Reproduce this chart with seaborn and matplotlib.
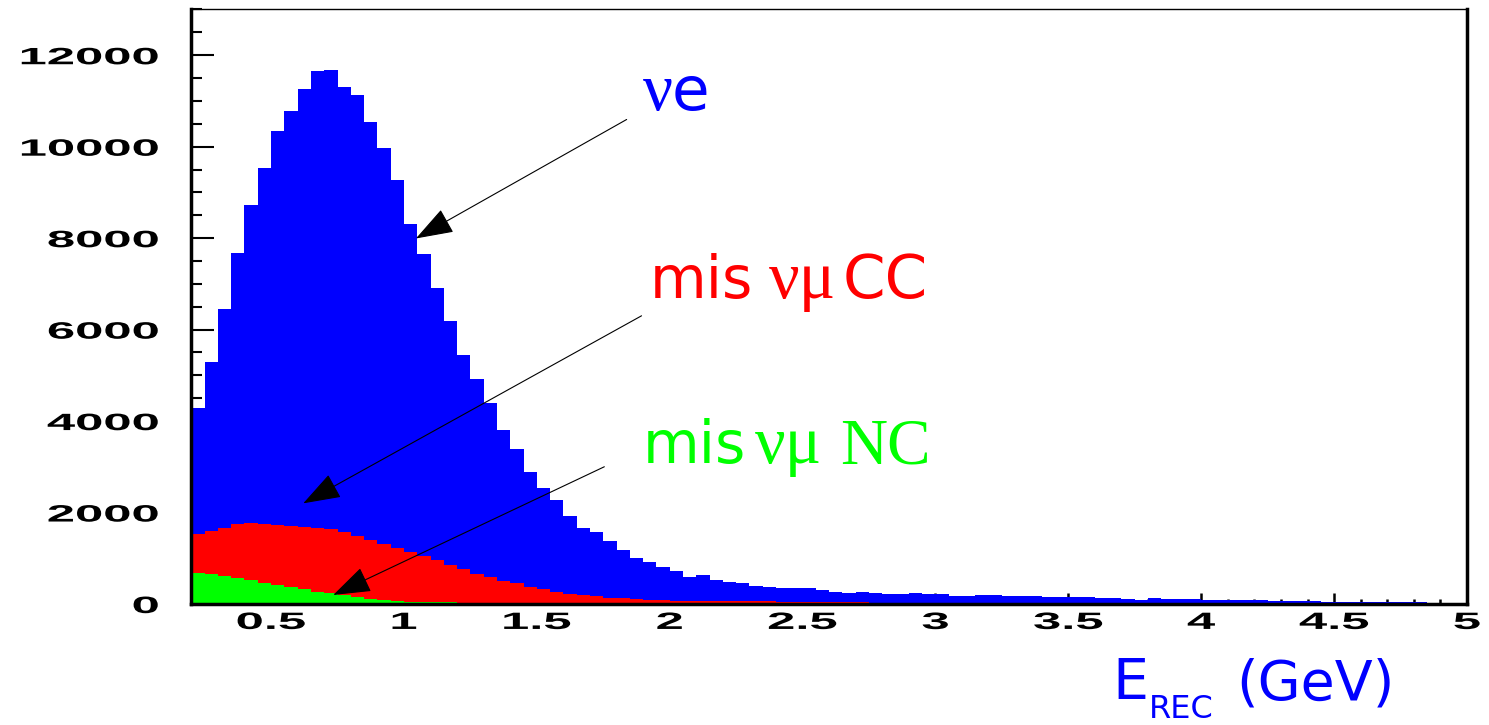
import numpy as np
import pandas as pd
import matplotlib
matplotlib.use("Agg")
import matplotlib.pyplot as plt
import seaborn as sns
from matplotlib.patheffects import AbstractPathEffect
from matplotlib.transforms import Affine2D
from matplotlib.ticker import MultipleLocator

# Binning of the reconstructed energy (GeV)
bin_lo, bin_hi, bin_w = 0.2, 5.0, 0.05

# Events per bin for each component, bins of 0.05 GeV starting at 0.2 GeV
nue_counts = [
    2761, 3700, 4791, 5924, 6958, 7787, 8618, 9071, 9581, 9998,
    10047, 9728, 9651, 9146, 8651, 8038, 7176, 6600, 5940, 5333,
    4683, 4251, 3821, 3293, 2945, 2499, 2209, 1996, 1698, 1469,
    1399, 1244, 1056, 908, 821, 736, 656, 518, 572, 458,
    417, 411, 336, 324, 299, 298, 299, 264, 232, 205,
    222, 202, 189, 190, 205, 199, 182, 150, 154, 172,
    172, 159, 158, 145, 134, 132, 132, 127, 112, 111,
    99, 76, 107, 103, 93, 90, 73, 72, 72, 65,
    65, 54, 53, 53, 53, 28, 27, 26, 27, 41,
    40, 40, 27, 19, 20, 19,
]
numu_cc_counts = [
    838, 947, 1056, 1180, 1238, 1284, 1320, 1348, 1369, 1390,
    1407, 1383, 1330, 1273, 1223, 1164, 1079, 1008, 924, 827,
    730, 632, 554, 486, 427, 359, 300, 251, 207, 175,
    152, 125, 109, 90, 77, 67, 60, 56, 55, 52,
    51, 49, 47, 46, 44, 41, 38, 34, 30, 28,
    26, 24, 23, 23, 22, 21, 20, 20, 19, 19,
    18, 18, 18, 18, 17, 17, 16, 17, 15, 16,
    14, 16, 14, 13, 13, 14, 12, 12, 11, 13,
    11, 10, 11, 10, 10, 10, 9, 9, 10, 8,
    8, 9, 7, 8, 8, 7,
]
numu_nc_counts = [
    685, 649, 612, 561, 525, 466, 415, 364, 321, 270,
    233, 197, 160, 117, 87, 66, 51, 42, 36, 33,
    30, 28, 26, 24, 23, 21, 20, 19, 18, 17,
    16, 15, 15, 14, 13, 13, 12, 12, 11, 11,
    10, 10, 10, 9, 9, 9, 8, 8, 8, 7,
    7, 7, 7, 6, 6, 6, 6, 5, 5, 6,
    5, 5, 4, 5, 4, 4, 4, 4, 4, 3,
    4, 3, 3, 4, 3, 3, 3, 3, 3, 2,
    3, 3, 2, 2, 3, 2, 2, 2, 2, 2,
    2, 2, 2, 2, 1, 2,
]

samples = ["nue", "numu_cc", "numu_nc"]
palette = {"nue": "#0000ff", "numu_cc": "#ff0000", "numu_nc": "#00ff00"}

x_tick_values = [0.5, 1, 1.5, 2, 2.5, 3, 3.5, 4, 4.5, 5]
x_tick_labels = ["0.5", "1", "1.5", "2", "2.5", "3", "3.5", "4", "4.5", "5"]
y_tick_values = [0, 2000, 4000, 6000, 8000, 10000, 12000]
y_tick_labels = ["0", "2000", "4000", "6000", "8000", "10000", "12000"]

edges = np.round(np.arange(bin_lo, bin_hi + bin_w / 2, bin_w), 4)
centers = (edges[:-1] + edges[1:]) / 2

df = pd.DataFrame({
    "E": np.tile(centers, len(samples)),
    "events": np.concatenate([nue_counts, numu_cc_counts, numu_nc_counts]),
    "sample": np.repeat(samples, len(centers)),
})


class Widen(AbstractPathEffect):
    """Stretch glyph outlines horizontally around a fixed anchor."""

    def __init__(self, factor, anchor="center"):
        super().__init__()
        self.factor = factor
        self.anchor = anchor

    def draw_path(self, renderer, gc, tpath, affine, rgbFace=None):
        ext = tpath.get_extents(affine)
        if self.anchor == "right":
            x0 = ext.x1
        elif self.anchor == "left":
            x0 = ext.x0
        else:
            x0 = 0.5 * (ext.x0 + ext.x1)
        stretched = affine + Affine2D().translate(-x0, 0).scale(self.factor, 1).translate(x0, 0)
        renderer.draw_path(gc, tpath, stretched, rgbFace)


sns.set_style("white")
plt.rcParams["font.family"] = ["DejaVu Sans"]
plt.rcParams["text.color"] = "black"
plt.rcParams["xtick.color"] = "black"
plt.rcParams["ytick.color"] = "black"
plt.rcParams["xtick.labelcolor"] = "black"
plt.rcParams["ytick.labelcolor"] = "black"

fig = plt.figure(figsize=(14.89, 7.25), dpi=100)
ax = fig.add_axes([0.1285, 0.1669, 0.8567, 0.8200])

sns.histplot(
    data=df, x="E", weights="events", hue="sample", hue_order=samples,
    multiple="stack", bins=edges.tolist(), element="step", fill=True, alpha=1,
    linewidth=0, palette=palette, legend=False, ax=ax,
)

ax.set_xlim(bin_lo, bin_hi)
ax.set_ylim(0, 13000)
ax.set_xlabel("")
ax.set_ylabel("")

ax.set_xticks(x_tick_values, x_tick_labels)
ax.set_yticks(y_tick_values, y_tick_labels)
ax.xaxis.set_minor_locator(MultipleLocator(0.1))
ax.yaxis.set_minor_locator(MultipleLocator(500))
ax.tick_params(axis="both", which="both", direction="in", bottom=True, left=True,
               top=False, right=False, color="black", labelcolor="black")
ax.tick_params(axis="x", which="major", length=8, width=1.8, pad=5)
ax.tick_params(axis="x", which="minor", length=3.8, width=1.8)
ax.tick_params(axis="y", which="major", length=16.5, width=1.5, pad=23.5)
ax.tick_params(axis="y", which="minor", length=8, width=1.5)

for lab in ax.get_xticklabels():
    lab.set_fontfamily("Liberation Sans")
    lab.set_fontweight("bold")
    lab.set_fontsize(17)
    lab.set_color("black")
    lab.set_path_effects([Widen(2.15, "center")])
for lab in ax.get_yticklabels():
    lab.set_fontfamily("Liberation Sans")
    lab.set_fontweight("bold")
    lab.set_fontsize(17)
    lab.set_color("black")
    lab.set_path_effects([Widen(2.15, "right")])

for side in ["left", "bottom", "right"]:
    ax.spines[side].set_linewidth(2.5)
    ax.spines[side].set_color("black")
ax.spines["top"].set_linewidth(1.0)
ax.spines["top"].set_color("black")

# Component labels with arrows pointing into the stack
arrow_style = dict(arrowstyle="-|>,head_length=1.2,head_width=0.42", color="black",
                   lw=0.8, shrinkA=0, shrinkB=0, mutation_scale=20)
ax.annotate("", xy=(1.045, 7993), xytext=(1.838, 10595), arrowprops=arrow_style)
ax.annotate("", xy=(0.621, 2201), xytext=(1.894, 6302), arrowprops=arrow_style)
ax.annotate("", xy=(0.734, 197), xytext=(1.754, 3001), arrowprops=arrow_style)

SANS = "DejaVu Sans"
SERIF = "Liberation Serif"


def label(pieces, y, color):
    """Write a label made of pieces (x, text, family, size) on one baseline."""
    for x, s, family, size in pieces:
        ax.text(x, y, s, color=color, fontsize=size, family=family,
                ha="left", va="baseline")


label([(1.899, "\u03bd", SERIF, 48), (2.008, "e", SANS, 44)], 10813, "#0000ff")
label([(1.924, "mis", SANS, 42), (2.375, "\u03bd\u03bc", SERIF, 49),
       (2.652, "CC", SANS, 44)], 6682, "#ff0000")
label([(1.898, "mis", SANS, 42), (2.322, "\u03bd\u03bc", SERIF, 49),
       (2.641, "NC", SERIF, 47)], 3082, "#00ff00")

# Axis title: E with subscript REC, then the unit
fig.text(0.7470, 0.0345, "E", color="#0000ff", fontsize=41, ha="left", va="baseline")
fig.text(0.7715, 0.0100, "REC", color="#0000ff", fontsize=23, ha="left", va="baseline")
fig.text(0.8300, 0.0345, "(GeV)", color="#0000ff", fontsize=40, ha="left", va="baseline")

fig.savefig("out.png", dpi=100)
